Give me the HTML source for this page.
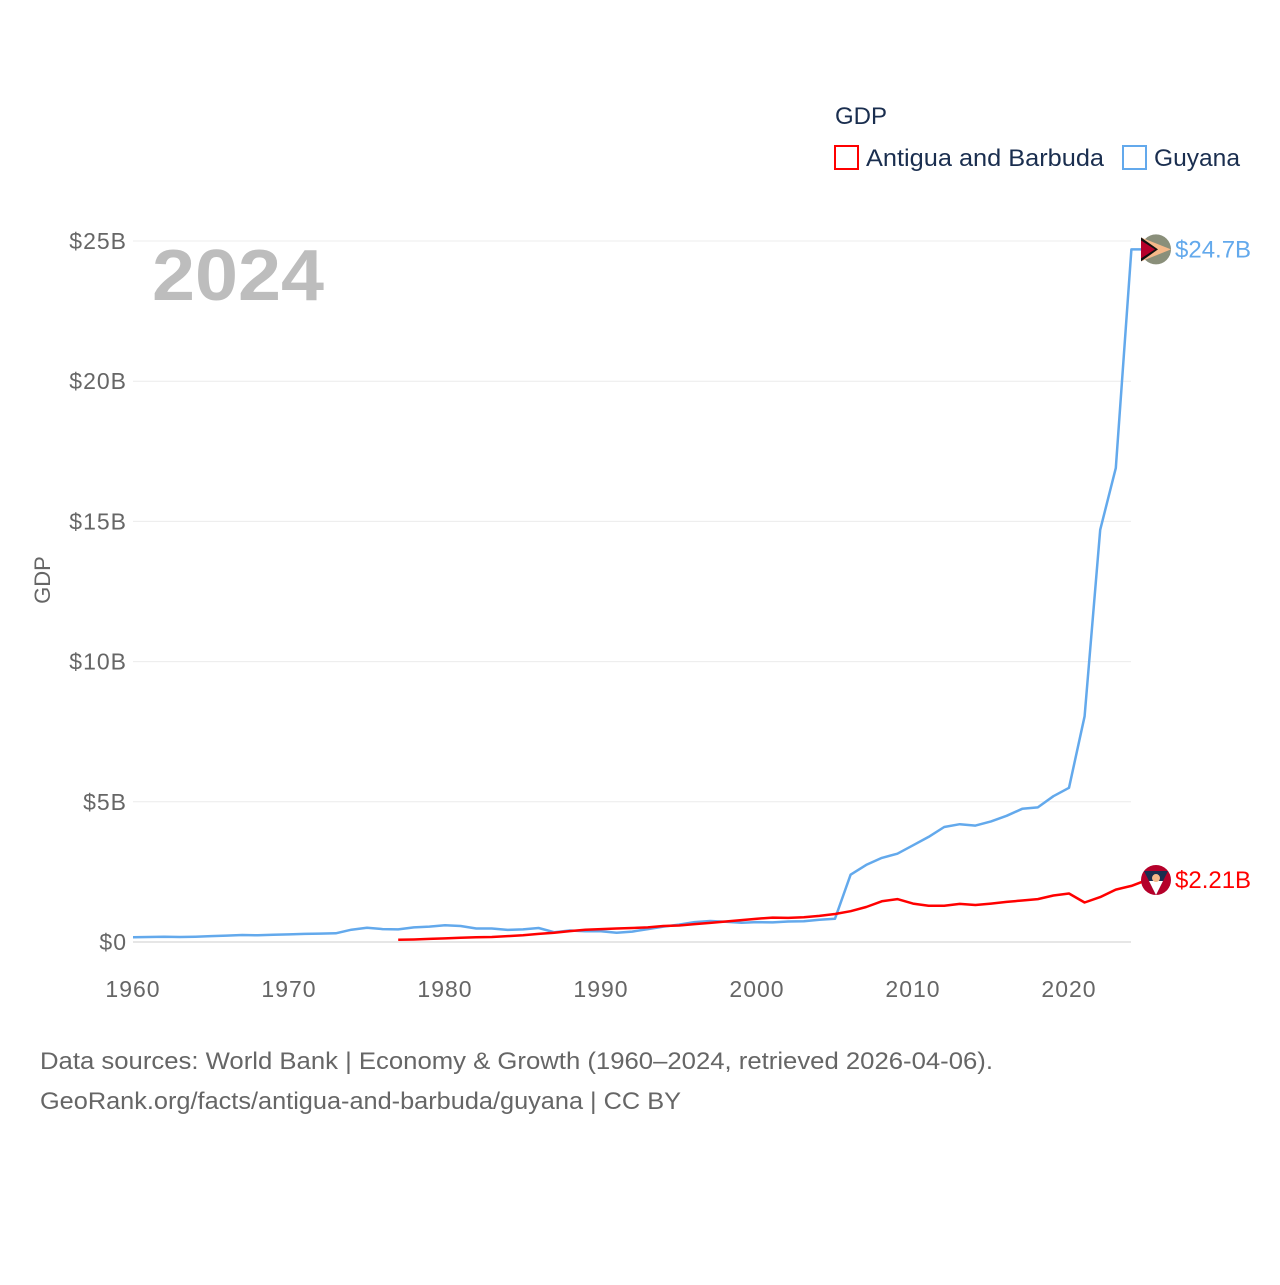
<!DOCTYPE html>
<html><head><meta charset="utf-8"><style>
body{margin:0;background:#fff;}
svg text{font-family:"Liberation Sans",sans-serif;}
</style></head><body>
<svg id="chart" width="1280" height="1280" viewBox="0 0 1280 1280" xmlns="http://www.w3.org/2000/svg">
<rect width="1280" height="1280" fill="#fff"/>
<text x="835" y="124" font-size="24" fill="#1a2e4f">GDP</text>
<g>
<rect x="835" y="146" width="23" height="23" fill="none" stroke="#ff0000" stroke-width="2"/>
<text x="866" y="166" font-size="24" fill="#1a2e4f" textLength="238" lengthAdjust="spacingAndGlyphs">Antigua and Barbuda</text></g>
<g>
<rect x="1123" y="146" width="23" height="23" fill="none" stroke="#63a9ec" stroke-width="2"/>
<text x="1154" y="166" font-size="24" fill="#1a2e4f" textLength="86" lengthAdjust="spacingAndGlyphs">Guyana</text></g>
<text x="152" y="300" font-size="72" font-weight="bold" fill="#bdbdbd" textLength="172" lengthAdjust="spacingAndGlyphs">2024</text>
<text transform="translate(50,580) rotate(-90)" text-anchor="middle" font-size="22" fill="#666">GDP</text>
<g id="grid"></g><g id="lines"></g><g id="ends"></g>
<text x="40" y="1069" font-size="24" fill="#666" textLength="953" lengthAdjust="spacingAndGlyphs">Data sources: World Bank | Economy &amp; Growth (1960–2024, retrieved 2026-04-06).</text>
<text x="40" y="1109" font-size="24" fill="#666" textLength="641" lengthAdjust="spacingAndGlyphs">GeoRank.org/facts/antigua-and-barbuda/guyana | CC BY</text>
</svg>
<script>
const yTicks=[0,5,10,15,20,25];
const yTickLabels=["$0","$5B","$10B","$15B","$20B","$25B"];
const xTicks=[1960,1970,1980,1990,2000,2010,2020];
const guyanaStart=1960;
const guyana=[0.17,0.18,0.19,0.18,0.19,0.21,0.23,0.25,0.24,0.26,0.27,0.29,0.30,0.31,0.44,0.51,0.46,0.45,0.52,0.55,0.60,0.57,0.48,0.48,0.43,0.45,0.50,0.35,0.41,0.38,0.38,0.33,0.37,0.46,0.55,0.62,0.71,0.75,0.72,0.69,0.71,0.70,0.73,0.74,0.79,0.83,2.4,2.75,3.0,3.15,3.45,3.75,4.1,4.2,4.15,4.3,4.5,4.75,4.8,5.2,5.5,8.05,14.7,16.9,24.7];
const antiguaStart=1977;
const antigua=[0.08,0.09,0.11,0.13,0.15,0.17,0.18,0.21,0.24,0.29,0.33,0.39,0.44,0.46,0.48,0.50,0.52,0.57,0.59,0.64,0.68,0.73,0.78,0.83,0.87,0.86,0.88,0.93,1.0,1.1,1.25,1.45,1.53,1.37,1.29,1.29,1.36,1.32,1.37,1.43,1.48,1.53,1.66,1.73,1.41,1.60,1.87,2.0,2.21];
const endLabels=["$24.7B","$2.21B"];
const NS="http://www.w3.org/2000/svg";
const x=yr=>133+(yr-1960)*15.6;
const y=v=>942-v*28.04;
function mk(t,a,p){const e=document.createElementNS(NS,t);for(const k in a)e.setAttribute(k,a[k]);p.appendChild(e);return e;}
const grid=document.getElementById('grid');
yTicks.forEach((v,i)=>{
 const l=mk('line',{x1:133,x2:1131,y1:y(v),y2:y(v),stroke:v===0?'#e6e6e6':'#ececec','stroke-width':v===0?2:1},grid);
 
 
 const t=mk('text',{x:127,y:y(v)+8,'text-anchor':'end','font-size':23,'letter-spacing':1,fill:'#666'},grid);t.textContent=yTickLabels[i];
 
 
});
xTicks.forEach(v=>{
 const t=mk('text',{x:x(v),y:997,'text-anchor':'middle','font-size':23,'letter-spacing':1,fill:'#666'},grid);t.textContent=v;
 
 
});
const lines=document.getElementById('lines');
function series(vals,start,color,name){
 const pts=vals.map((v,i)=>x(start+i).toFixed(1)+','+y(v).toFixed(1));
 const last=vals[vals.length-1];pts.push((x(start+vals.length-1)+10)+','+y(last));
 const p=mk('polyline',{points:pts.join(' '),fill:'none',stroke:color,'stroke-width':2.5,'stroke-linejoin':'round'},lines);
 
 
}
series(guyana,guyanaStart,'#63a9ec','line-guyana');
series(antigua,antiguaStart,'#ff0000','line-antigua');
const ends=document.getElementById('ends');
function endMark(v,color,label,kind){
 const cx=1156,cy=y(v);
 const g=mk('g',{},ends);
 
 
 if(kind==='guyana'){
  mk('circle',{cx,cy,r:15,fill:'#8a8f7a'},g);
  mk('path',{d:`M${cx-15} ${cy-12} L${cx+15} ${cy} L${cx-15} ${cy+12}Z`,fill:'#f5b889'},g);
  mk('path',{d:`M${cx-15} ${cy-12} L${cx+2} ${cy} L${cx-15} ${cy+12}Z`,fill:'#111'},g);
  mk('path',{d:`M${cx-15} ${cy-9} L${cx-1} ${cy} L${cx-15} ${cy+9}Z`,fill:'#b5002a'},g);
 }else{
  mk('circle',{cx,cy,r:15,fill:'#b5002a'},g);
  mk('path',{d:`M${cx-12} ${cy-9} L${cx+12} ${cy-9} L${cx} ${cy+15}Z`,fill:'#1a2e4f'},g);
  mk('path',{d:`M${cx-7} ${cy+1} L${cx+7} ${cy+1} L${cx} ${cy+15}Z`,fill:'#fff'},g);
  mk('circle',{cx,cy:cy-2,r:4,fill:'#f5b889'},g);
 }
 const t=mk('text',{x:1175,y:cy+8,'font-size':24,fill:color},ends);t.textContent=label;
 
 
}
endMark(guyana[guyana.length-1],'#63a9ec',endLabels[0],'guyana');
endMark(antigua[antigua.length-1],'#ff0000',endLabels[1],'antigua');
</script>
</body></html>
